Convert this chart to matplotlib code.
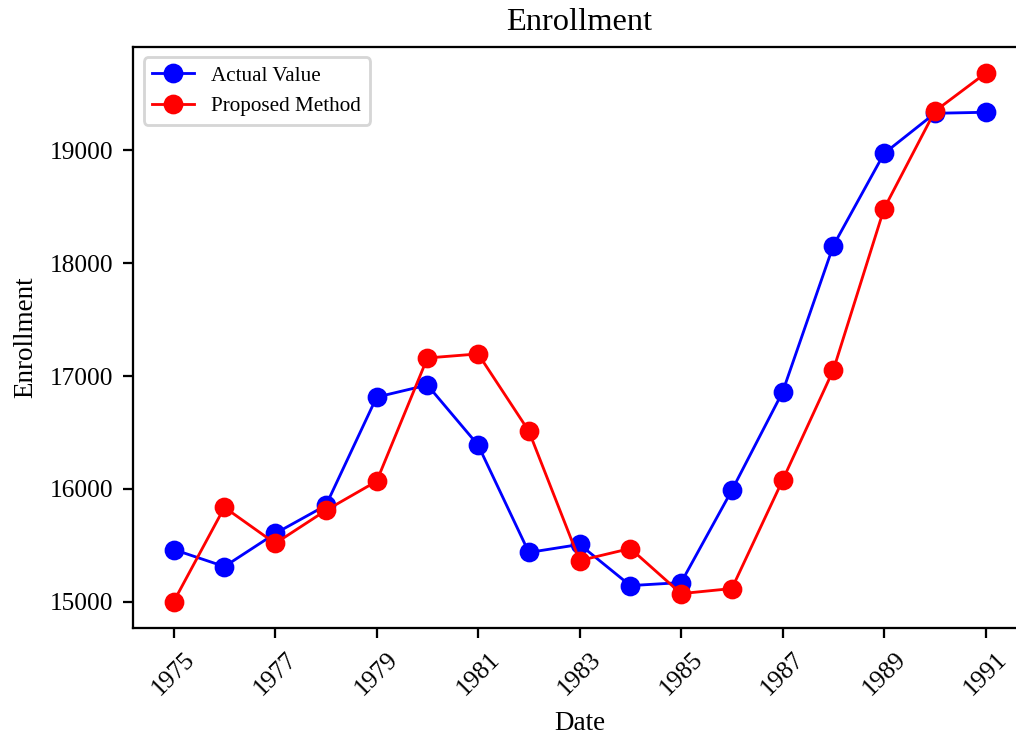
import matplotlib
matplotlib.use("Agg")
import matplotlib.pyplot as plt

plt.rcParams['font.family'] = ['Liberation Serif', 'DejaVu Serif']
plt.rcParams['font.size'] = 9

years = [1975, 1976, 1977, 1978, 1979, 1980, 1981, 1982, 1983, 1984,
         1985, 1986, 1987, 1988, 1989, 1990, 1991]
actual = [15462, 15311, 15604, 15853, 16813, 16920, 16387, 15436, 15507,
          15142, 15169, 15987, 16858, 18156, 18973, 19329, 19338]
proposed = [15000, 15836, 15516, 15809, 16067, 17160, 17196, 16511, 15364,
            15471, 15071, 15116, 16076, 17053, 18484, 19347, 19684]
tick_years = [1975, 1977, 1979, 1981, 1983, 1985, 1987, 1989, 1991]

fig = plt.figure(figsize=(5, 3.6025), dpi=203.2)
ax = fig.add_axes([0.131, 0.142, 0.879, 0.794])

ax.plot(years, actual, color='blue', marker='o', markersize=6, linewidth=1,
        label='Actual Value')
ax.plot(years, proposed, color='red', marker='o', markersize=6, linewidth=1,
        label='Proposed Method')

ax.set_xticks(tick_years)
ax.set_xticklabels([str(y) for y in tick_years], rotation=45)
ax.set_title('Enrollment', fontsize=11.5)
ax.set_xlabel('Date', fontsize=9.6)
ax.set_ylabel('Enrollment', fontsize=9.6)
ax.legend(loc='upper left', fontsize=7.5)

fig.savefig('out.png', dpi=203.2)
